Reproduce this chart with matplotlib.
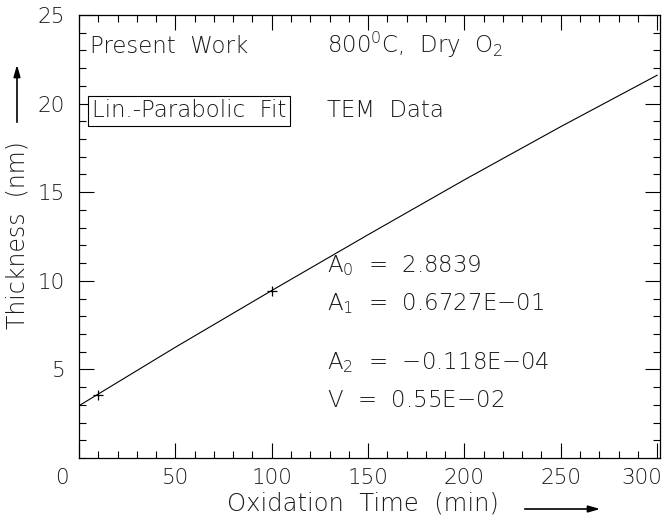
import matplotlib
matplotlib.use("Agg")
import matplotlib.pyplot as plt
from matplotlib.ticker import MultipleLocator
from matplotlib.transforms import ScaledTranslation

# fit curve
fit_t = [0, 50, 100, 150, 200, 250, 300]
fit_thick = [2.95, 6.25, 9.45, 12.6, 15.7, 18.7, 21.6]

# TEM data points
tem_t = [10, 100]
tem_thick = [3.55, 9.4]

x_ticks = [0, 50, 100, 150, 200, 250, 300]
y_ticks = [5, 10, 15, 20, 25]

params = ["A$_0$  =  2.8839", "A$_1$  =  0.6727E$-$01",
          "A$_2$  =  $-$0.118E$-$04", "V  =  0.55E$-$02"]
params_y = [10.5, 8.35, 5.02, 2.88]

plt.rcParams['font.family'] = ['DejaVu Sans']
plt.rcParams['font.weight'] = 200
plt.rcParams['mathtext.fontset'] = 'dejavusans'
fs = 16.5
col = '#1a1a1a'

fig = plt.figure(figsize=(6.67, 5.21), dpi=100)
ax = fig.add_axes([79/667, 1 - 458/521, 581/667, 443/521])

ax.plot(fit_t, fit_thick, color='black', lw=0.8)
ax.plot(tem_t, tem_thick, ls='none', marker='+', ms=7, mew=0.9, color='black')

ax.set_xlim(0, 301.5)
ax.set_ylim(0, 25)
ax.set_xticks(x_ticks)
ax.set_yticks(y_ticks)
ax.xaxis.set_minor_locator(MultipleLocator(10))
ax.yaxis.set_minor_locator(MultipleLocator(1))
ax.tick_params(which='both', direction='in', top=True, right=True, width=0.8,
               labelsize=15.5, labelcolor=col)
ax.tick_params(which='major', length=11)
ax.tick_params(which='minor', length=5)
ax.tick_params(axis='x', pad=7)
ax.tick_params(axis='y', pad=10)
for s in ax.spines.values():
    s.set_linewidth(0.9)

fig.canvas.draw()
xl = ax.get_xticklabels()
xl[0].set_transform(xl[0].get_transform() + ScaledTranslation(-17/100, 0, fig.dpi_scale_trans))
xl[-1].set_transform(xl[-1].get_transform() + ScaledTranslation(-15/100, 0, fig.dpi_scale_trans))

ax.text(5.7, 22.86, "Present  Work", fontsize=fs, color=col)
ax.text(128.9, 22.86, "800$^0$C,  Dry  O$_2$", fontsize=fs, color=col)
ax.text(6.7, 19.24, "Lin.-Parabolic  Fit", fontsize=fs, color=col,
        bbox=dict(boxstyle='square,pad=0.15', fc='white', ec='black', lw=0.8))
ax.text(128.9, 19.24, "TEM  Data", fontsize=fs, color=col)
for s, y in zip(params, params_y):
    ax.text(128.9, y, s, fontsize=fs, color=col)

# axis labels with arrows
fig.text(18/667, 1 - 235/521, "Thickness  (nm)", rotation=90, ha='center', va='center',
         fontsize=17, color=col)
fig.text(363/667, 1 - 504/521, "Oxidation  Time  (min)", ha='center', va='center',
         fontsize=17.5, color=col)
fig.add_artist(matplotlib.patches.FancyArrowPatch(
    (17/667, 1 - 125/521), (17/667, 1 - 62/521), transform=fig.transFigure,
    arrowstyle='-|>,head_length=7,head_width=2', lw=1.2, color='black'))
fig.add_artist(matplotlib.patches.FancyArrowPatch(
    (522/667, 1 - 509/521), (603/667, 1 - 509/521), transform=fig.transFigure,
    arrowstyle='-|>,head_length=7,head_width=2', lw=1.2, color='black'))

fig.savefig("out.png", dpi=100)
